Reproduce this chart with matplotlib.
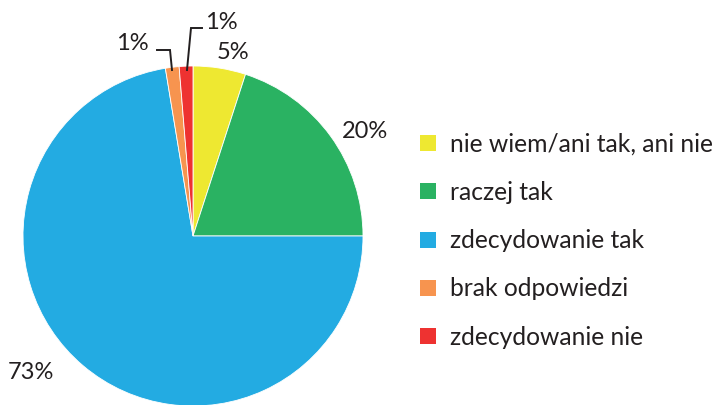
import matplotlib
matplotlib.use("Agg")
import matplotlib.pyplot as plt
from matplotlib.patches import Rectangle

# ---- data ----
categories = ["nie wiem/ani tak, ani nie", "raczej tak", "zdecydowanie tak",
              "brak odpowiedzi", "zdecydowanie nie"]
values = [5.0, 20.0, 72.4, 1.3, 1.3]
value_labels = ["5%", "20%", "73%", "1%", "1%"]
colors = ["#EEE831", "#2AB262", "#23ABE2", "#F7944F", "#EE3231"]

# ---- layout (pixels) ----
W, H = 718, 406
CX, CY, R = 193, 237, 170
TXT = "#231F20"
FONT = "Lato"
FS = 17
FS_LEG = 17.7


def px(x, y):
    return (x - CX) / R, (CY - y) / R


fig = plt.figure(figsize=(W / 100, H / 100), dpi=100)
ax = fig.add_axes([0, 0, 1, 1])
ax.pie(values, colors=colors, startangle=90, counterclock=False,
       radius=1, wedgeprops=dict(linewidth=0.6, edgecolor="white"))
ax.set_xlim(-CX / R, (W - CX) / R)
ax.set_ylim(-(H - CY) / R, CY / R)
ax.set_axis_off()

# value label positions (pixel centers)
label_pos = [(233, 52), (365, 132), (31, 373), (132, 43), (221, 22)]
for txt, (x, y) in zip(value_labels, label_pos):
    ax.text(*px(x, y), txt, ha="center", va="center", fontsize=FS,
            family=FONT, color=TXT)

# leader lines for small slices
leaders = [[(157, 51), (170, 51), (172, 71)],
           [(187, 71), (191, 29), (202, 29)]]
for pts in leaders:
    xs, ys = zip(*[px(x, y) for x, y in pts])
    ax.plot(xs, ys, color=TXT, lw=1.4, solid_joinstyle="miter")

# legend
leg_x, leg_y0, leg_dy, sq = 420, 144, 48.3, 16
for i, (lab, c) in enumerate(zip(categories, colors)):
    yc = leg_y0 + i * leg_dy
    x0, y0 = px(leg_x, yc + sq / 2)
    ax.add_patch(Rectangle((x0, y0), sq / R, sq / R, facecolor=c,
                           edgecolor="none", clip_on=False))
    ax.text(*px(450, yc), lab, ha="left", va="center", fontsize=FS_LEG,
            family=FONT, color=TXT)

fig.savefig("out.png", dpi=100)
